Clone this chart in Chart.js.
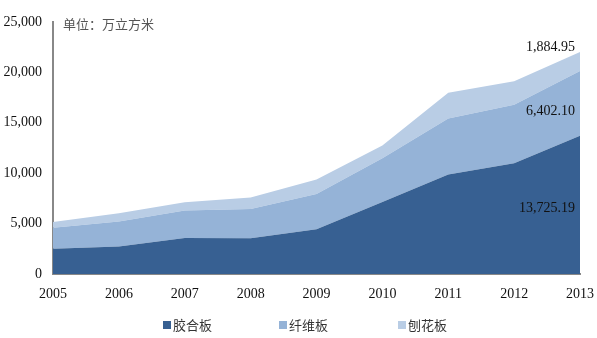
<!DOCTYPE html>
<html>
<head>
<meta charset="utf-8">
<script src="https://cdn.jsdelivr.net/npm/chart.js@4"></script>
<style>
  html, body { margin: 0; padding: 0; background: #fff; }
  #wrap { width: 597px; height: 338px; position: relative; }
</style>
</head>
<body>
<div id="wrap"><canvas id="panel-chart"></canvas></div>
<script>
// 人造板产量（万立方米）
const years = ['2005', '2006', '2007', '2008', '2009', '2010', '2011', '2012', '2013'];
const plywood = [2515, 2729, 3562, 3541, 4451, 7140, 9870, 10981, 13725.19];
const fiberboard = [2061, 2467, 2730, 2907, 3489, 4355, 5562, 5800, 6402.10];
const particleboard = [576, 843, 829, 1142, 1431, 1264, 2559, 2350, 1884.95];
const seriesNames = ['胶合板', '纤维板', '刨花板'];
const yTicks = [0, 5000, 10000, 15000, 20000, 25000];
const unitText = '单位：万立方米';

const colors = ['#376092', '#95B3D7', '#B9CDE5'];
const serif = "'Liberation Serif', 'Times New Roman', serif";
const cjk = "'Noto Sans CJK SC', sans-serif";

const fmt = (v) => v.toLocaleString('en-US', { minimumFractionDigits: 2, maximumFractionDigits: 2 });

// end-of-series value labels + unit note + legend
const decorPlugin = {
  id: 'decor',
  afterDatasetsDraw(chart) {
    const { ctx, chartArea, scales: { y } } = chart;
    const last = years.length - 1;
    const x = chart.scales.x.getPixelForValue(last) - 5;
    const a = plywood[last], b = fiberboard[last], c = particleboard[last];
    const spots = [
      [a, y.getPixelForValue(a / 2) + 4],
      [b, y.getPixelForValue(a + b / 2) + 8],
      [c, y.getPixelForValue(a + b + c) - 5],
    ];
    ctx.save();
    ctx.font = `14px ${serif}`;
    ctx.fillStyle = '#111';
    ctx.textAlign = 'right';
    ctx.textBaseline = 'middle';
    spots.forEach(([v, py]) => ctx.fillText(fmt(v), x, py));

    ctx.font = `13px ${cjk}`;
    ctx.fillStyle = '#555';
    ctx.textAlign = 'left';
    ctx.fillText(unitText, chartArea.left + 10, chartArea.top + 2);

    // legend
    const legendX = [163, 279, 398];
    const ly = 325;
    seriesNames.forEach((name, i) => {
      ctx.fillStyle = colors[i];
      ctx.fillRect(legendX[i], ly - 4, 8, 8);
      ctx.fillStyle = '#333';
      ctx.fillText(name, legendX[i] + 10, ly);
    });
    ctx.restore();
  },
};

const makeSet = (label, data, i) => ({
  label,
  data,
  backgroundColor: colors[i],
  borderWidth: 0,
  pointRadius: 0,
  tension: 0,
  fill: i === 0 ? 'origin' : '-1',
});

new Chart(document.getElementById('panel-chart'), {
  type: 'line',
  data: {
    labels: years,
    datasets: [
      makeSet(seriesNames[0], plywood, 0),
      makeSet(seriesNames[1], fiberboard, 1),
      makeSet(seriesNames[2], particleboard, 2),
    ],
  },
  options: {
    responsive: true,
    maintainAspectRatio: false,
    animation: false,
    layout: { padding: { top: 22, right: 17, bottom: 36, left: 0 } },
    plugins: {
      legend: { display: false },
      tooltip: { enabled: false },
    },
    scales: {
      x: {
        offset: false,
        grid: { display: false, drawTicks: false },
        border: { display: true, color: '#888', width: 2 },
        ticks: { color: '#111', font: { family: serif, size: 14 }, padding: 12, maxRotation: 0 },
        afterFit: (s) => { s.height = 28; s.paddingRight = 0; s.paddingLeft = 0; },
      },
      y: {
        stacked: true,
        min: 0,
        max: 25000,
        grid: { display: false, drawTicks: false },
        border: { display: true, color: '#888', width: 2 },
        afterBuildTicks: (s) => { s.ticks = yTicks.map((v) => ({ value: v })); },
        afterFit: (s) => { s.width = 53; s.paddingTop = 0; s.paddingBottom = 0; },
        ticks: {
          color: '#111',
          padding: 11,
          font: { family: serif, size: 14 },
          callback: (v) => v.toLocaleString('en-US'),
        },
      },
    },
  },
  plugins: [decorPlugin],
});
</script>
</body>
</html>
